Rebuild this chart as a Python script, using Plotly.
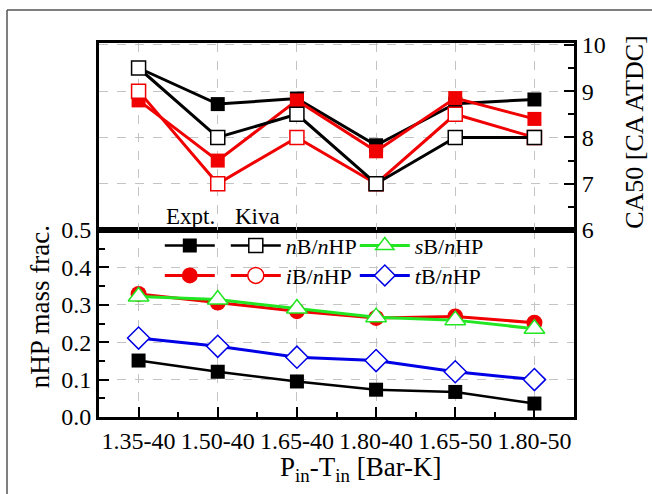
import plotly.graph_objects as go

categories = ["1.35-40", "1.50-40", "1.65-40", "1.80-40", "1.65-50", "1.80-50"]

# CA50 [CA ATDC] (top panel)
ca50_nB_expt = [9.5, 8.72, 8.84, 7.83, 8.73, 8.82]
ca50_nB_kiva = [9.5, 8.0, 8.5, 7.0, 8.0, 8.0]
ca50_iB_expt = [8.8, 7.5, 8.8, 7.7, 8.85, 8.4]
ca50_iB_kiva = [9.0, 7.0, 8.0, 7.0, 8.5, 8.0]

# nHP mass fraction (bottom panel)
frac_nB_expt = [0.151, 0.121, 0.095, 0.073, 0.067, 0.036]
frac_iB_expt = [0.329, 0.306, 0.283, 0.265, 0.269, 0.252]
frac_sB_kiva = [0.322, 0.314, 0.29, 0.267, 0.259, 0.236]
frac_tB_kiva = [0.211, 0.189, 0.16, 0.151, 0.121, 0.1]

x = list(range(len(categories)))

BLACK = "#000000"
RED = "#f00000"
GREEN = "#22e622"
BLUE = "#0000e6"
FONT = "'Liberation Serif', 'Times New Roman', 'DejaVu Serif', serif"

fig = go.Figure()

# ---- top panel ----
fig.add_trace(go.Scatter(x=x, y=ca50_nB_expt, xaxis="x2", yaxis="y2", mode="lines+markers",
                         line=dict(color=BLACK, width=3),
                         marker=dict(symbol="square", size=14, color=BLACK), showlegend=False))
fig.add_trace(go.Scatter(x=x, y=ca50_iB_expt, xaxis="x2", yaxis="y2", mode="lines+markers",
                         line=dict(color=RED, width=3),
                         marker=dict(symbol="square", size=14, color=RED), showlegend=False))
fig.add_trace(go.Scatter(x=x, y=ca50_iB_kiva, xaxis="x2", yaxis="y2", mode="lines+markers",
                         line=dict(color=RED, width=3),
                         marker=dict(symbol="square", size=14, color="white",
                                     line=dict(color=RED, width=1.5)), showlegend=False))
fig.add_trace(go.Scatter(x=x, y=ca50_nB_kiva, xaxis="x2", yaxis="y2", mode="lines+markers",
                         line=dict(color=BLACK, width=3),
                         marker=dict(symbol="square", size=14, color="white",
                                     line=dict(color=BLACK, width=1.5)), showlegend=False))

# ---- bottom panel ----
fig.add_trace(go.Scatter(x=x, y=frac_nB_expt, mode="lines+markers", name="\u200a",
                         line=dict(color=BLACK, width=2.5),
                         marker=dict(symbol="square", size=14, color=BLACK),
                         legend="legend", legendwidth=1))
fig.add_trace(go.Scatter(x=[None], y=[None], mode="lines+markers",
                         name="<i>n</i>B/<i>n</i>HP",
                         line=dict(color=BLACK, width=2.5),
                         marker=dict(symbol="square", size=14, color="white",
                                     line=dict(color=BLACK, width=1.5)),
                         legend="legend", legendwidth=64))
fig.add_trace(go.Scatter(x=x, y=frac_iB_expt, mode="lines+markers", name="\u200a",
                         line=dict(color=RED, width=3),
                         marker=dict(symbol="circle", size=16, color=RED),
                         legend="legend2", legendwidth=1))
fig.add_trace(go.Scatter(x=[None], y=[None], mode="lines+markers",
                         name="<i>i</i>B/<i>n</i>HP",
                         line=dict(color=RED, width=3),
                         marker=dict(symbol="circle", size=16, color="white",
                                     line=dict(color=RED, width=1.5)),
                         legend="legend2", legendwidth=64))
fig.add_trace(go.Scatter(x=x, y=frac_sB_kiva, mode="lines+markers",
                         name="<i>s</i>B/<i>n</i>HP",
                         line=dict(color=GREEN, width=3),
                         marker=dict(symbol="triangle-up", size=18, color="white",
                                     line=dict(color=GREEN, width=1.5)),
                         legend="legend"))
fig.add_trace(go.Scatter(x=x, y=frac_tB_kiva, mode="lines+markers",
                         name="<i>t</i>B/<i>n</i>HP",
                         line=dict(color=BLUE, width=3),
                         marker=dict(symbol="diamond", size=17, color="white",
                                     line=dict(color=BLUE, width=1.5)),
                         legend="legend2"))

grid = dict(showgrid=True, gridcolor="#c4c4c4", griddash="dash", gridwidth=1)
frame = dict(showline=True, linecolor=BLACK, linewidth=3, mirror=True, zeroline=False)
tickfont = dict(family=FONT, size=24, color=BLACK)

fig.update_layout(
    width=652, height=494,
    margin=dict(l=99, r=78, t=43, b=77),
    paper_bgcolor="white", plot_bgcolor="white",
    font=dict(family=FONT, color=BLACK),
    xaxis=dict(domain=[0, 1], anchor="y", range=[-0.5, 5.5],
               tickmode="array", tickvals=x, ticktext=categories,
               ticks="inside", ticklen=10, tickwidth=2, tickcolor=BLACK,
               minor=dict(tick0=0.5, dtick=1, ticks="inside", ticklen=5, tickwidth=2,
                          tickcolor=BLACK, showgrid=False),
               tickfont=tickfont, **grid, **frame),
    yaxis=dict(domain=[0, 0.5], anchor="x", range=[0, 0.5], dtick=0.1, tick0=0,
               tickformat=".1f",
               ticks="inside", ticklen=10, tickwidth=2, tickcolor=BLACK,
               minor=dict(dtick=0.05, ticks="inside", ticklen=6, tickwidth=2,
                          tickcolor=BLACK, showgrid=False),
               tickfont=tickfont, **grid, **frame),
    xaxis2=dict(domain=[0, 1], anchor="y2", range=[-0.5, 5.5], matches="x",
                tickmode="array", tickvals=x, showticklabels=False, ticks="",
                **grid, **frame),
    yaxis2=dict(domain=[0.5, 1], anchor="x2", side="right", range=[6, 10.04],
                dtick=1, tick0=6,
                ticks="inside", ticklen=10, tickwidth=2, tickcolor=BLACK,
                minor=dict(dtick=0.5, ticks="inside", ticklen=6, tickwidth=2,
                           tickcolor=BLACK, showgrid=False),
                tickfont=tickfont, **grid, **frame),
    legend=dict(orientation="h", x=0.128, xanchor="left", y=0.458, yanchor="middle",
                bgcolor="rgba(0,0,0,0)", borderwidth=0, itemwidth=50,
                font=dict(family=FONT, size=22, color=BLACK), tracegroupgap=0),
    legend2=dict(orientation="h", x=0.128, xanchor="left", y=0.378, yanchor="middle",
                 bgcolor="rgba(0,0,0,0)", borderwidth=0, itemwidth=50,
                 font=dict(family=FONT, size=22, color=BLACK), tracegroupgap=0),
    showlegend=True,
)

annotations = [
    dict(text="nHP mass frac.", x=-0.124, y=0.294, xref="paper", yref="paper",
         textangle=-90, showarrow=False, font=dict(family=FONT, size=27, color=BLACK),
         xanchor="center", yanchor="middle"),
    dict(text="CA50 [CA ATDC]", x=1.126, y=0.762, xref="paper", yref="paper",
         textangle=-90, showarrow=False, font=dict(family=FONT, size=26, color=BLACK),
         xanchor="center", yanchor="middle"),
    dict(text="P<sub>in</sub>-T<sub>in</sub> [Bar-K]", x=0.5516, y=-0.088,
         xref="paper", yref="paper", showarrow=False,
         font=dict(family=FONT, size=27, color=BLACK), xanchor="center", yanchor="top"),
    dict(text="Expt.", x=0.1916, y=0.5374, xref="paper", yref="paper", showarrow=False,
         font=dict(family=FONT, size=23, color=BLACK), xanchor="center", yanchor="middle"),
    dict(text="Kiva", x=0.3337, y=0.5374, xref="paper", yref="paper", showarrow=False,
         font=dict(family=FONT, size=23, color=BLACK), xanchor="center", yanchor="middle"),
]
fig.update_layout(annotations=annotations)

# outer figure border (left and top edges)
fig.add_shape(type="line", xref="paper", yref="paper",
              x0=(7 - 99) / 475, x1=(7 - 99) / 475, y0=(417 - 10) / 374, y1=(417 - 500) / 374,
              line=dict(color="#555555", width=1.5))
fig.add_shape(type="line", xref="paper", yref="paper",
              x0=(7 - 99) / 475, x1=(660 - 99) / 475, y0=(417 - 10) / 374, y1=(417 - 10) / 374,
              line=dict(color="#555555", width=1.5))

fig.write_html("out.html")
